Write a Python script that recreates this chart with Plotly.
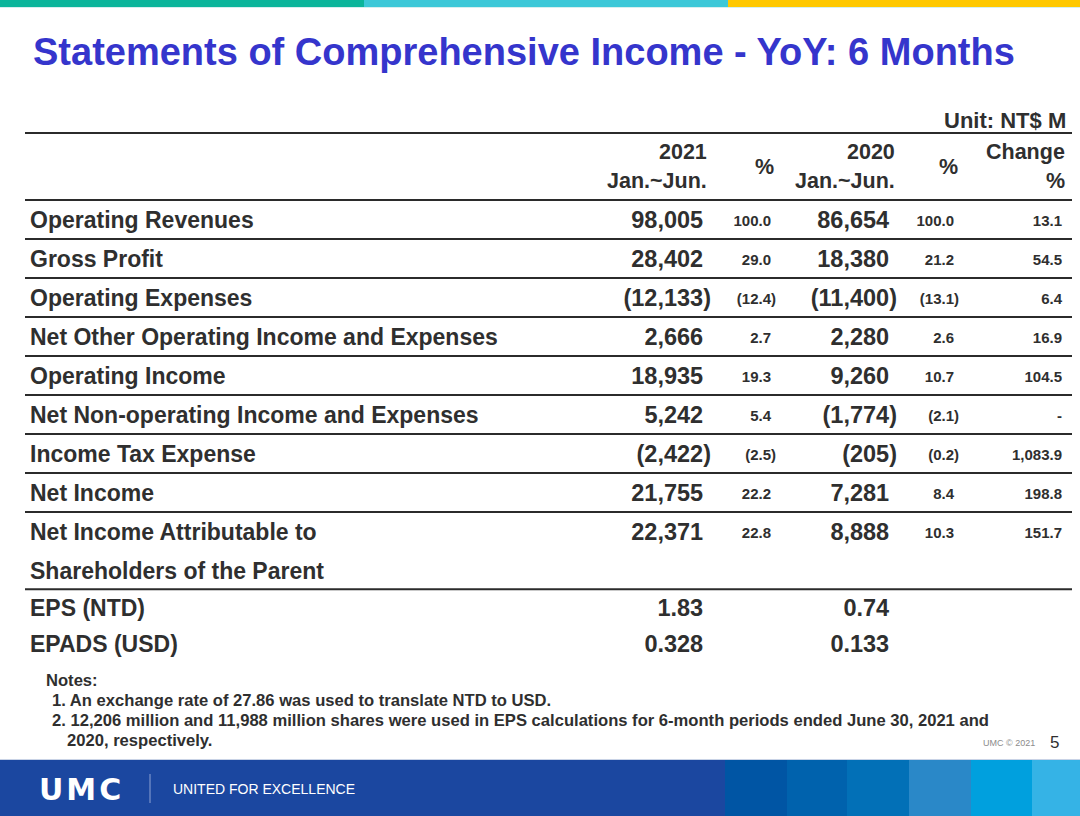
import plotly.graph_objects as go

W, H = 1080, 816

# ---------------- data ----------------
row_labels = ["Operating Revenues", "Gross Profit", "Operating Expenses",
              "Net Other Operating Income and Expenses", "Operating Income",
              "Net Non-operating Income and Expenses", "Income Tax Expense",
              "Net Income", "Net Income Attributable to", "Shareholders of the Parent",
              "EPS (NTD)", "EPADS (USD)"]
amt_2021 = [98005, 28402, -12133, 2666, 18935, 5242, -2422, 21755, 22371, None, 1.83, 0.328]
pct_2021 = [100.0, 29.0, -12.4, 2.7, 19.3, 5.4, -2.5, 22.2, 22.8, None, None, None]
amt_2020 = [86654, 18380, -11400, 2280, 9260, -1774, -205, 7281, 8888, None, 0.74, 0.133]
pct_2020 = [100.0, 21.2, -13.1, 2.6, 10.7, -2.1, -0.2, 8.4, 10.3, None, None, None]
chg_pct = [13.1, 54.5, 6.4, 16.9, 104.5, "-", 1083.9, 198.8, 151.7, None, None, None]
decimals = [0, 0, 0, 0, 0, 0, 0, 0, 0, 0, 2, 3]
ruled_after = [0, 1, 2, 3, 4, 5, 6, 7, 9]   # rows followed by a horizontal rule

title = "Statements of Comprehensive Income - YoY: 6 Months"
unit = "Unit: NT$ M"
notes = ["Notes:",
         "1. An exchange rate of 27.86 was used to translate NTD to USD.",
         "2. 12,206 million and 11,988 million shares were used in EPS calculations for 6-month periods ended June 30, 2021 and",
         "2020, respectively."]

# ---------------- styles ----------------
TXT = "#2F2F2F"
FONT = "Liberation Sans, Arial, sans-serif"


def fmt(v, d=1):
    if v is None:
        return ""
    if isinstance(v, str):
        return v
    s = f"{abs(v):,.{d}f}"
    return f"({s})" if v < 0 else s


# row slot y positions (layout)
slot_y = [219.5 + 39 * k for k in range(10)] + [608, 644]
text_y = [y + 2.5 for y in slot_y]

fig = go.Figure()

# labels
fig.add_trace(go.Scatter(x=[30] * len(row_labels), y=text_y, mode="text",
                         text=row_labels, textposition="middle right",
                         textfont=dict(family=FONT, size=23, color=TXT, weight="bold"),
                         hoverinfo="skip", showlegend=False))


def add_col(vals, right, size, hang, dec=None):
    txt = [fmt(v, dec[i] if dec else 1) for i, v in enumerate(vals)]
    xs = [right if t.endswith(")") else right - hang for t in txt]
    fig.add_trace(go.Scatter(x=xs, y=text_y, mode="text", text=txt,
                             textposition="middle left",
                             textfont=dict(family=FONT, size=size, color=TXT, weight="bold"),
                             hoverinfo="skip", showlegend=False))


add_col(amt_2021, 711, 23.5, 7.8, decimals)
add_col(pct_2021, 776, 15, 5)
add_col(amt_2020, 897, 23.5, 7.8, decimals)
add_col(pct_2020, 959, 15, 5)
add_col(chg_pct, 1062, 15, 0)

shapes = []
# top colour bar
for x0, x1, c in [(0, 364, "#0BB59B"), (364, 728, "#3CC8D8"), (728, 1080, "#FFC800")]:
    shapes.append(dict(type="rect", x0=x0, x1=x1, y0=0, y1=7, fillcolor=c, line_width=0, layer="below"))
shapes.append(dict(type="line", x0=0, x1=1080, y0=7.5, y1=7.5, line=dict(color="#D6EFEF", width=1)))
# footer band
shapes.append(dict(type="rect", x0=0, x1=1080, y0=760, y1=816, fillcolor="#1B47A0", line_width=0, layer="below"))
shapes.append(dict(type="line", x0=0, x1=1080, y0=759.5, y1=759.5, line=dict(color="#C9D3E6", width=1)))
for x0, x1, c in [(725, 787, "#0055A4"), (787, 847, "#0062AD"), (847, 909, "#0270B7"),
                  (909, 971, "#2A88C8"), (971, 1032, "#00A0DE"), (1032, 1080, "#35B3E6")]:
    shapes.append(dict(type="rect", x0=x0, x1=x1, y0=760, y1=816, fillcolor=c, line_width=0, layer="below"))
shapes.append(dict(type="line", x0=150, x1=150, y0=774, y1=803, line=dict(color="#8EA3D3", width=1)))

# table rules
RULE = dict(color="#2B2B2B", width=2)
for yy in [133, 200]:
    shapes.append(dict(type="line", x0=25, x1=1072, y0=yy, y1=yy, line=RULE))
for r in ruled_after:
    yy = (slot_y[r] + slot_y[r + 1]) / 2
    shapes.append(dict(type="line", x0=25, x1=1072, y0=yy, y1=yy, line=RULE))

ann = []


def A(text, x, y, size, xanchor="left", color=TXT, bold=True, family=FONT, align=None):
    ann.append(dict(text=text, x=x, y=y, xref="x", yref="y", showarrow=False,
                    xanchor=xanchor, yanchor="middle", align=align or xanchor,
                    font=dict(family=family, size=size, color=color,
                              weight="bold" if bold else "normal")))


A(title, 31, 52, 38, color="#3535CC")
A(unit, 1068, 120, 22, xanchor="right")
# headers
A("2021", 709, 152, 21.5, xanchor="right")
A("Jan.~Jun.", 709, 181, 21.5, xanchor="right")
A("%", 764, 167, 21.5, xanchor="center")
A("2020", 897, 152, 21.5, xanchor="right")
A("Jan.~Jun.", 897, 181, 21.5, xanchor="right")
A("%", 948, 167, 21.5, xanchor="center")
A("Change", 1067, 152, 21.5, xanchor="right")
A("%", 1067, 181, 21.5, xanchor="right")
# notes
A(notes[0], 44, 680, 16.6)
A(notes[1], 50, 700, 16.6)
A(notes[2], 50, 720, 16.6)
A(notes[3], 65, 740, 16.6)
A("UMC © 2021", 1037, 743, 9, xanchor="right", color="#8C8C8C", bold=False)
A("5", 1061, 742, 17, xanchor="right", bold=False)
# footer
A("U\u200aM\u200aC", 37, 789, 30, color="white", family="DejaVu Sans, Liberation Sans, sans-serif")
A("UNITED FOR EXCELLENCE", 171, 789, 14, color="white", bold=False)

fig.update_layout(
    width=W, height=H, margin=dict(l=0, r=0, t=0, b=0),
    paper_bgcolor="white", plot_bgcolor="white",
    xaxis=dict(range=[0, W], visible=False, fixedrange=True),
    yaxis=dict(range=[H, 0], visible=False, fixedrange=True),
    shapes=shapes, annotations=ann, showlegend=False,
)

fig.write_html("out.html", config={"displayModeBar": False},
               post_script="document.body.style.margin='0';document.body.style.overflow='hidden';")
